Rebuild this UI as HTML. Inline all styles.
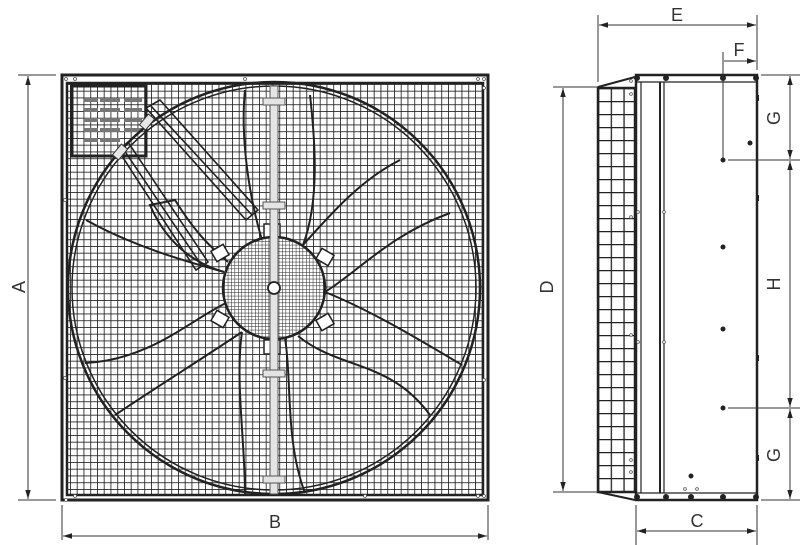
<!DOCTYPE html>
<html><head><style>html,body{margin:0;padding:0;background:#fff}svg{display:block}</style></head>
<body>
<svg width="800" height="545" viewBox="0 0 800 545" xmlns="http://www.w3.org/2000/svg" font-family="Liberation Sans, sans-serif">
<defs>
<pattern id="g" x="70" y="84" width="6.75" height="6.75" patternUnits="userSpaceOnUse">
<path d="M0 0H6.75M0 0V6.75" stroke="#222" stroke-width="1.7" fill="none"/>
</pattern>
<pattern id="gf" x="0" y="0" width="3.4" height="3.4" patternUnits="userSpaceOnUse">
<path d="M0 0H3.4M0 0V3.4" stroke="#222" stroke-width="1" fill="none"/>
</pattern>
<pattern id="gm" x="598" y="88" width="12.7" height="13" patternUnits="userSpaceOnUse">
<path d="M0 0H12.7M0 0V13" stroke="#222" stroke-width="2.6" fill="none"/>
</pattern>
<marker id="ar" viewBox="0 0 10 10" refX="10" refY="5" markerWidth="9" markerHeight="9" orient="auto-start-reverse"><path d="M0 2L10 5L0 8z" fill="#222"/></marker>
</defs>

<!-- FRONT VIEW -->
<rect x="62" y="75" width="426" height="425" fill="#fff" stroke="#222" stroke-width="3"/>
<rect x="67" y="83" width="416" height="412" fill="url(#g)" stroke="#222" stroke-width="2.5"/>
<!-- corner box -->
<rect x="72" y="86" width="74" height="70" fill="#fff" stroke="#222" stroke-width="3"/>
<rect x="72" y="86" width="74" height="70" fill="url(#g)"/>
<g fill="#777">
<rect x="84" y="98" width="14" height="4"/><rect x="100" y="98" width="20" height="4"/><rect x="124" y="98" width="18" height="4"/>
<rect x="84" y="108" width="14" height="4"/><rect x="100" y="108" width="20" height="4"/><rect x="124" y="108" width="18" height="4"/>
<rect x="84" y="118" width="14" height="4"/><rect x="100" y="118" width="20" height="4"/><rect x="124" y="118" width="18" height="4"/>
<rect x="84" y="128" width="14" height="4"/><rect x="100" y="128" width="20" height="4"/><rect x="124" y="128" width="18" height="4"/>
<rect x="84" y="138" width="14" height="4"/><rect x="100" y="138" width="20" height="4"/>
</g>
<!-- fan ring -->
<circle cx="274" cy="288" r="206" fill="none" stroke="#222" stroke-width="2.5"/>
<circle cx="274" cy="288" r="202" fill="none" stroke="#222" stroke-width="1.5"/>
<!-- blades -->
<g fill="none" stroke="#222" stroke-width="2">
<path d="M224 272 C200 265 140 250 86 220"/>
<path d="M224 272 C190 262 165 240 150 205 L175 200 C200 240 215 250 228 262"/>
<path d="M228 302 C190 320 150 360 85 363"/>
<path d="M242 332 C200 360 160 385 115 415"/>
<path d="M242 332 C235 380 245 440 245 495"/>
<path d="M285 338 C292 380 285 440 305 493"/>
<path d="M298 336 C340 370 390 360 430 415"/>
<path d="M325 292 C370 310 420 340 462 365"/>
<path d="M325 292 C360 270 390 235 450 213"/>
<path d="M303 245 C330 215 360 180 400 160"/>
<path d="M303 245 C320 200 315 140 310 95"/>
<path d="M262 240 C250 200 240 140 245 90"/>
</g>
<!-- struts -->
<g fill="none" stroke="#222" stroke-width="1.6">
<path d="M146 108 L160 100 L258 210 L246 220z"/>
<path d="M151 106 L252 215"/>
<path d="M118 150 L128 142 L208 262 L196 270z"/>
<path d="M122 147 L202 266"/>
</g>
<rect x="140" y="118" width="14" height="8" fill="#e6e6e6" stroke="#333" transform="rotate(-50 147 122)"/>
<rect x="113" y="148" width="14" height="8" fill="#e6e6e6" stroke="#333" transform="rotate(-50 120 152)"/>
<!-- tabs -->
<g fill="#fff" stroke="#222" stroke-width="1.5">
<rect x="264" y="224" width="16" height="14"/>
<rect x="264" y="340" width="16" height="14"/>
<rect x="213" y="247" width="14" height="12" transform="rotate(-30 220 253)"/>
<rect x="318" y="251" width="14" height="12" transform="rotate(30 325 257)"/>
<rect x="213" y="313" width="14" height="12" transform="rotate(30 220 319)"/>
<rect x="318" y="316" width="14" height="12" transform="rotate(-30 325 322)"/>
</g>
<!-- hub -->
<circle cx="274" cy="288" r="51" fill="#fff" stroke="#222" stroke-width="2.5"/>
<circle cx="274" cy="288" r="50" fill="url(#gf)"/>
<!-- rod -->
<rect x="270" y="86" width="8" height="408" fill="#e4e4e4" stroke="#555" stroke-width="1"/>
<g fill="#e4e4e4" stroke="#555" stroke-width="1">
<rect x="263" y="98" width="22" height="7"/>
<rect x="263" y="202" width="22" height="7"/>
<rect x="263" y="370" width="22" height="7"/>
<rect x="263" y="476" width="22" height="7"/>
</g>
<circle cx="274" cy="288" r="6" fill="#fff" stroke="#222" stroke-width="1.8"/>
<!-- small rivets -->
<g fill="#fff" stroke="#555" stroke-width="0.8">
<circle cx="66" cy="79" r="1.5"/><circle cx="75" cy="79" r="1.5"/><circle cx="245" cy="79" r="1.5"/><circle cx="478" cy="79" r="1.5"/><circle cx="484" cy="79" r="1.5"/>
<circle cx="66" cy="500" r="1.5"/><circle cx="75" cy="496" r="1.5"/><circle cx="365" cy="496" r="1.5"/><circle cx="478" cy="496" r="1.5"/><circle cx="484" cy="496" r="1.5"/>
<circle cx="65" cy="200" r="1.5"/><circle cx="65" cy="378" r="1.5"/><circle cx="484" cy="380" r="1.5"/><circle cx="484" cy="88" r="1.5"/>
</g>
<!-- dimension A -->
<g stroke="#333" stroke-width="1" fill="none">
<line x1="18" y1="75" x2="56" y2="75"/><line x1="18" y1="500" x2="56" y2="500"/>
<line x1="28" y1="76" x2="28" y2="499" marker-start="url(#ar)" marker-end="url(#ar)"/>
<line x1="62" y1="505" x2="62" y2="540"/><line x1="488" y1="505" x2="488" y2="540"/>
<line x1="63" y1="536" x2="487" y2="536" marker-start="url(#ar)" marker-end="url(#ar)"/>
</g>
<text x="20" y="287" font-size="18" fill="#333" text-anchor="middle" transform="rotate(-90 20 287)" dominant-baseline="middle">A</text>
<text x="275" y="528" font-size="18" fill="#333" text-anchor="middle">B</text>

<!-- SIDE VIEW -->
<rect x="598" y="88" width="37" height="404" fill="url(#gm)" stroke="#222" stroke-width="2.5"/>
<path d="M598 87 L635 77 M598 492 L635 500" stroke="#222" stroke-width="2" fill="none"/>
<rect x="636" y="75" width="121" height="425" fill="#fff" stroke="#222" stroke-width="2.5"/>
<line x1="636" y1="82" x2="757" y2="82" stroke="#222" stroke-width="1.2"/>
<line x1="636" y1="493" x2="757" y2="493" stroke="#222" stroke-width="1.2"/>
<line x1="641" y1="82" x2="641" y2="493" stroke="#222" stroke-width="1.2"/>
<line x1="660" y1="82" x2="660" y2="493" stroke="#222" stroke-width="2"/>
<line x1="664" y1="82" x2="664" y2="493" stroke="#222" stroke-width="1.2"/>
<g fill="#222">
<circle cx="637" cy="78" r="3"/><circle cx="666" cy="78" r="3"/><circle cx="723" cy="78" r="3"/><circle cx="756" cy="78" r="3"/>
<circle cx="637" cy="497" r="3"/><circle cx="666" cy="497" r="3"/><circle cx="691" cy="497" r="3"/><circle cx="723" cy="497" r="3"/><circle cx="756" cy="497" r="3"/>
<circle cx="750" cy="143" r="2.5"/><circle cx="723" cy="160" r="2.5"/><circle cx="723" cy="247" r="2.5"/><circle cx="723" cy="329" r="2.5"/><circle cx="723" cy="408" r="2.5"/><circle cx="691" cy="476" r="2.5"/>
<rect x="756" y="95" width="3" height="6"/><rect x="756" y="195" width="3" height="6"/><rect x="756" y="355" width="3" height="6"/><rect x="756" y="455" width="3" height="6"/>
</g>
<g fill="#fff" stroke="#555" stroke-width="0.8">
<circle cx="631" cy="81" r="1.4"/><circle cx="631" cy="94" r="1.4"/><circle cx="631" cy="217" r="1.4"/><circle cx="638" cy="212" r="1.4"/><circle cx="664" cy="212" r="1.4"/>
<circle cx="631" cy="335" r="1.4"/><circle cx="638" cy="342" r="1.4"/><circle cx="664" cy="342" r="1.4"/><circle cx="631" cy="460" r="1.4"/><circle cx="631" cy="472" r="1.4"/>
<circle cx="685" cy="489" r="1.4"/><circle cx="697" cy="489" r="1.4"/>
</g>
<!-- dims right -->
<g stroke="#333" stroke-width="1" fill="none">
<line x1="598" y1="15" x2="598" y2="82"/><line x1="757" y1="15" x2="757" y2="70"/>
<line x1="599" y1="25" x2="756" y2="25" marker-start="url(#ar)" marker-end="url(#ar)"/>
<line x1="723" y1="52" x2="723" y2="158"/>
<line x1="724" y1="61" x2="756" y2="61" marker-end="url(#ar)"/>
<line x1="761" y1="75" x2="800" y2="75"/><line x1="728" y1="160" x2="800" y2="160"/><line x1="728" y1="408" x2="800" y2="408"/><line x1="761" y1="500" x2="800" y2="500"/>
<line x1="790" y1="76" x2="790" y2="159" marker-start="url(#ar)" marker-end="url(#ar)"/>
<line x1="790" y1="161" x2="790" y2="407" marker-start="url(#ar)" marker-end="url(#ar)"/>
<line x1="790" y1="409" x2="790" y2="499" marker-start="url(#ar)" marker-end="url(#ar)"/>
<line x1="553" y1="87" x2="598" y2="87"/><line x1="553" y1="492" x2="598" y2="492"/>
<line x1="563" y1="88" x2="563" y2="491" marker-start="url(#ar)" marker-end="url(#ar)"/>
<line x1="636" y1="505" x2="636" y2="545"/><line x1="757" y1="505" x2="757" y2="545"/>
<line x1="637" y1="531" x2="756" y2="531" marker-start="url(#ar)" marker-end="url(#ar)"/>
</g>
<g font-size="18" fill="#333" text-anchor="middle">
<text x="677" y="21">E</text>
<text x="739" y="56">F</text>
<text x="697" y="527">C</text>
<text x="775" y="118" transform="rotate(-90 775 118)" dominant-baseline="middle">G</text>
<text x="775" y="284" transform="rotate(-90 775 284)" dominant-baseline="middle">H</text>
<text x="775" y="455" transform="rotate(-90 775 455)" dominant-baseline="middle">G</text>
<text x="548" y="287" transform="rotate(-90 548 287)" dominant-baseline="middle">D</text>
</g>
</svg>
</body></html>
